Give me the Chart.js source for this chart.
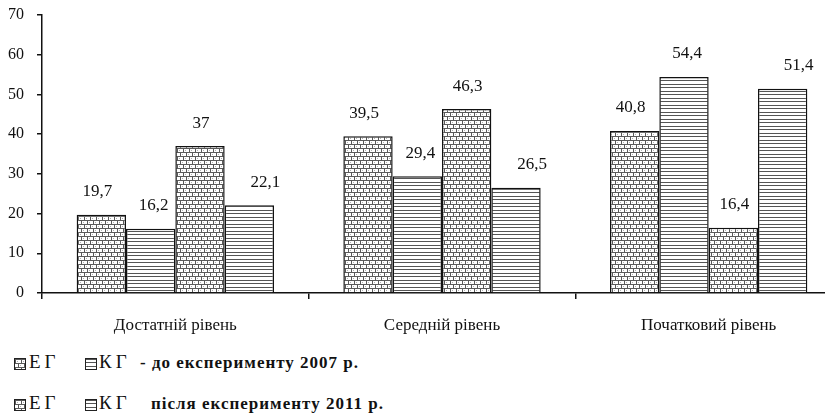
<!DOCTYPE html>
<html>
<head>
<meta charset="utf-8">
<script src="https://cdn.jsdelivr.net/npm/chart.js@4/dist/chart.umd.min.js"></script>
<style>
  html, body { margin: 0; padding: 0; background: #fff; overflow: hidden; width: 825px; height: 415px; }
  #wrap { position: relative; width: 825px; height: 415px; overflow: hidden; }
  #c { position: absolute; left: 0; top: 0; }
  .lg { position: absolute; left: 0; width: 825px; height: 24px; font-family: 'Liberation Serif', 'Times New Roman', serif; color: #111; white-space: nowrap; }
  .lg span { position: absolute; top: 0; }
  .lg canvas { position: absolute; border: 1px solid #222; box-sizing: border-box; }
  .grp { font-size: 19px; letter-spacing: 4px; }
  .note { font-size: 17px; font-weight: bold; letter-spacing: 1px; }
</style>
</head>
<body>
<div id="wrap">
  <canvas id="c" width="845" height="345"></canvas>
</div>
<script>
// ---- data ----
const categories = ['Достатній рівень', 'Середній рівень', 'Початковий рівень'];
const seriesNames = ['ЕГ 2007', 'КГ 2007', 'ЕГ 2011', 'КГ 2011'];
const eg2007 = [19.7, 39.5, 40.8];
const kg2007 = [16.2, 29.4, 54.4];
const eg2011 = [37, 46.3, 16.4];
const kg2011 = [22.1, 26.5, 51.4];
const yTicks = [0, 10, 20, 30, 40, 50, 60, 70];
const legendGroups = ['ЕГ', 'КГ'];
const legendNotes = ['- до експерименту 2007 р.', 'після експерименту 2011 р.'];

const fontFam = "'Liberation Serif', 'Times New Roman', serif";

// ---- patterns ----
function makeBrick() {
  const t = document.createElement('canvas');
  t.width = 12; t.height = 8;
  const g = t.getContext('2d');
  g.fillStyle = '#fff'; g.fillRect(0, 0, 12, 8);
  g.fillStyle = '#5a5a5a';
  g.fillRect(0, 0, 12, 1);
  g.fillRect(0, 4, 12, 1);
  g.fillRect(0, 0, 1, 4);
  g.fillRect(6, 0, 1, 4);
  g.fillRect(3, 4, 1, 4);
  g.fillRect(9, 4, 1, 4);
  g.fillStyle = '#b0b0b0';
  g.fillRect(2, 2, 1, 1);
  g.fillRect(8, 2, 1, 1);
  g.fillRect(5, 6, 1, 1);
  g.fillRect(11, 6, 1, 1);
  return t;
}
function makeLines() {
  const t = document.createElement('canvas');
  t.width = 4; t.height = 7;
  const g = t.getContext('2d');
  g.fillStyle = '#fff'; g.fillRect(0, 0, 4, 7);
  g.fillStyle = '#555';
  g.fillRect(0, 0, 4, 1);
  g.fillRect(0, 3, 4, 1);
  return t;
}
const mainCtx = document.getElementById('c').getContext('2d');
const brickPat = mainCtx.createPattern(makeBrick(), 'repeat');
const linesPat = mainCtx.createPattern(makeLines(), 'repeat');

const labelDx = [-4, 3, 1, 16];

const valueLabels = {
  id: 'valueLabels',
  afterDatasetsDraw(chart) {
    const ctx = chart.ctx;
    ctx.save();
    ctx.font = '17px ' + fontFam;
    ctx.fillStyle = '#111';
    ctx.textAlign = 'center';
    ctx.textBaseline = 'middle';
    chart.data.datasets.forEach((ds, i) => {
      chart.getDatasetMeta(i).data.forEach((bar, j) => {
        const txt = String(ds.data[j]).replace('.', ',');
        ctx.fillText(txt, bar.x + labelDx[i], bar.y - 23);
      });
    });
    ctx.restore();
  }
};

const mk = (label, data, pat) => ({
  label, data,
  backgroundColor: pat,
  hoverBackgroundColor: pat,
  borderColor: '#111',
  hoverBorderColor: '#111',
  borderWidth: 1.5,
  borderSkipped: 'bottom'
});

const chart = new Chart(document.getElementById('c'), {
  type: 'bar',
  data: {
    labels: categories,
    datasets: [
      mk(seriesNames[0], eg2007, brickPat),
      mk(seriesNames[1], kg2007, linesPat),
      mk(seriesNames[2], eg2011, brickPat),
      mk(seriesNames[3], kg2011, linesPat)
    ]
  },
  options: {
    responsive: false,
    animation: false,
    layout: { padding: { top: 15, right: 3, left: 0, bottom: 0 } },
    plugins: { legend: { display: false }, tooltip: { filter: () => false } },
    datasets: { bar: { categoryPercentage: 0.74, barPercentage: 1.0 } },
    scales: {
      x: {
        offset: true,
        grid: { display: true, drawOnChartArea: false, offset: true, drawTicks: true, tickLength: 6, color: '#111', lineWidth: 1.5 },
        border: { display: true, color: '#111', width: 1.5 },
        ticks: { color: '#111', font: { family: fontFam, size: 17 }, padding: 16, maxRotation: 0 },
        afterFit(s) { s.height = 52; s.paddingLeft = 0; s.paddingRight = 0; }
      },
      y: {
        min: 0, max: 70,
        afterBuildTicks(s) { s.ticks = yTicks.map(v => ({ value: v })); },
        grid: { display: true, drawOnChartArea: false, drawTicks: true, tickLength: 5, color: '#111', lineWidth: 1.5 },
        border: { display: true, color: '#111', width: 1.5 },
        ticks: { color: '#111', font: { family: fontFam, size: 16 }, padding: 13 },
        afterFit(s) { s.width = 42; s.paddingTop = 0; s.paddingBottom = 0; }
      }
    }
  },
  plugins: [valueLabels]
});

// ---- legend (HTML) ----
const wrap = document.getElementById('wrap');
const rowTops = [352, 393];
const noteLefts = [140, 151];
rowTops.forEach((top, r) => {
  const row = document.createElement('div');
  row.className = 'lg';
  row.style.top = top + 'px';
  const parts = [
    { sw: 'brick', left: 14 }, { txt: legendGroups[0], left: 29, cls: 'grp', top: -1 },
    { sw: 'lines', left: 85 }, { txt: legendGroups[1], left: 99, cls: 'grp', top: -1 },
    { txt: legendNotes[r], left: noteLefts[r], cls: 'note', top: 1 }
  ];
  parts.forEach(p => {
    if (p.sw) {
      const cv = document.createElement('canvas');
      cv.width = 10; cv.height = 10;
      cv.style.left = p.left + 'px'; cv.style.top = '6px';
      const g = cv.getContext('2d');
      g.fillStyle = g.createPattern(p.sw === 'brick' ? makeBrick() : makeLines(), 'repeat');
      g.fillRect(0, 0, 10, 10);
      row.appendChild(cv);
    } else {
      const s = document.createElement('span');
      s.className = p.cls;
      s.textContent = p.txt;
      s.style.left = p.left + 'px'; s.style.top = p.top + 'px';
      row.appendChild(s);
    }
  });
  wrap.appendChild(row);
});

// Redraw once the serif face is ready for canvas text.
function redraw() { chart.update('none'); }
requestAnimationFrame(() => requestAnimationFrame(redraw));
window.addEventListener('load', redraw);
if (document.fonts && document.fonts.ready) document.fonts.ready.then(redraw);
[30, 150, 400, 900, 1800].forEach(t => setTimeout(redraw, t));
</script>
</body>
</html>
